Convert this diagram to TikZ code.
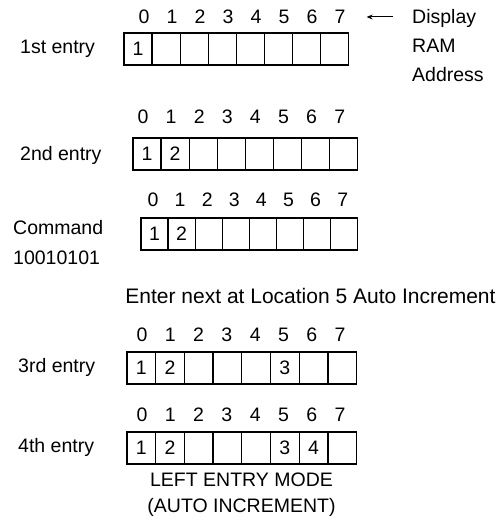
\documentclass[tikz,border=0pt]{standalone}
\usepackage{fontspec}
\setmainfont{Liberation Sans}
\usetikzlibrary{arrows.meta,positioning,calc}
\tikzset{%
  cell/.style={draw,line width=1.3pt,minimum height=32pt,inner sep=0pt},
  addr/.style={inner sep=0pt},
  lbl/.style={anchor=west,inner sep=0pt},
  arrow/.style={-{Stealth[length=6pt,width=5pt]}, line width=1pt}%
}

\begin{document}
\begin{tikzpicture}[
    x=1pt, y=1pt,
    font=\fontsize{19.5}{23}\selectfont
]
\useasboundingbox (0,0) rectangle (500,527);

% 1st entry
\node[lbl] (first) at (20,478) {1st entry};
\foreach \i in {0,...,7} {
  \node[addr] (addrA\i) at ({144+28*\i},510) {\i};
  \node[cell, minimum width=28.1pt] (cellA\i) at ({124+28.1*(\i+0.5)},478) {};
}
\node at (cellA0) {1};

% address legend
\node[lbl, align=left, font=\fontsize{19.5}{29}\selectfont] (disp) at (412,481) {Display\\RAM\\Address};
\draw[arrow, shorten <=19pt, shorten >=21pt] (disp.west |- addrA7) -- (addrA7.east);

% 2nd entry
\node[lbl] (second) at (20,372) {2nd entry};
\foreach \i in {0,...,7} {
  \node[addr] (addrB\i) at ({143+28.1*\i},410) {\i};
  \node[cell, minimum width=28.1pt] (cellB\i) at ({133+28.1*(\i+0.5)},373) {};
}
\node at (cellB0) {1};
\node at (cellB1) {2};

% command
\node[lbl, align=left, font=\fontsize{19.5}{30}\selectfont] (cmd) at (13,284) {Command\\10010101};
\foreach \i in {0,...,7} {
  \node[addr] (addrC\i) at ({153+27.1*\i},327) {\i};
  \node[cell, minimum width=27.1pt] (cellC\i) at ({141+27.1*(\i+0.5)},293) {};
}
\node at (cellC0) {1};
\node at (cellC1) {2};

\node[font=\fontsize{21}{25}\selectfont] (note) at (310.5,231) {Enter next at Location 5 Auto Increment};

% 3rd entry
\node[lbl] (third) at (18,160) {3rd entry};
\foreach \i in {0,...,7} {
  \node[addr] (addrD\i) at ({142+28.3*\i},192) {\i};
  \node[cell, minimum width=28.7pt] (cellD\i) at ({127+28.7*(\i+0.5)},159) {};
}
\node at (cellD0) {1};
\node at (cellD1) {2};
\node at (cellD5) {3};

% 4th entry
\node[lbl] (fourth) at (18,80) {4th entry};
\foreach \i in {0,...,7} {
  \node[addr] (addrE\i) at ({142+28.3*\i},112) {\i};
  \node[cell, minimum width=28.7pt] (cellE\i) at ({127+28.7*(\i+0.5)},79) {};
}
\node at (cellE0) {1};
\node at (cellE1) {2};
\node at (cellE5) {3};
\node at (cellE6) {4};

\node[align=center, font=\fontsize{19.5}{26}\selectfont] (mode) at (241.5,32) {LEFT ENTRY MODE\\(AUTO INCREMENT)};

\end{tikzpicture}
\end{document}
